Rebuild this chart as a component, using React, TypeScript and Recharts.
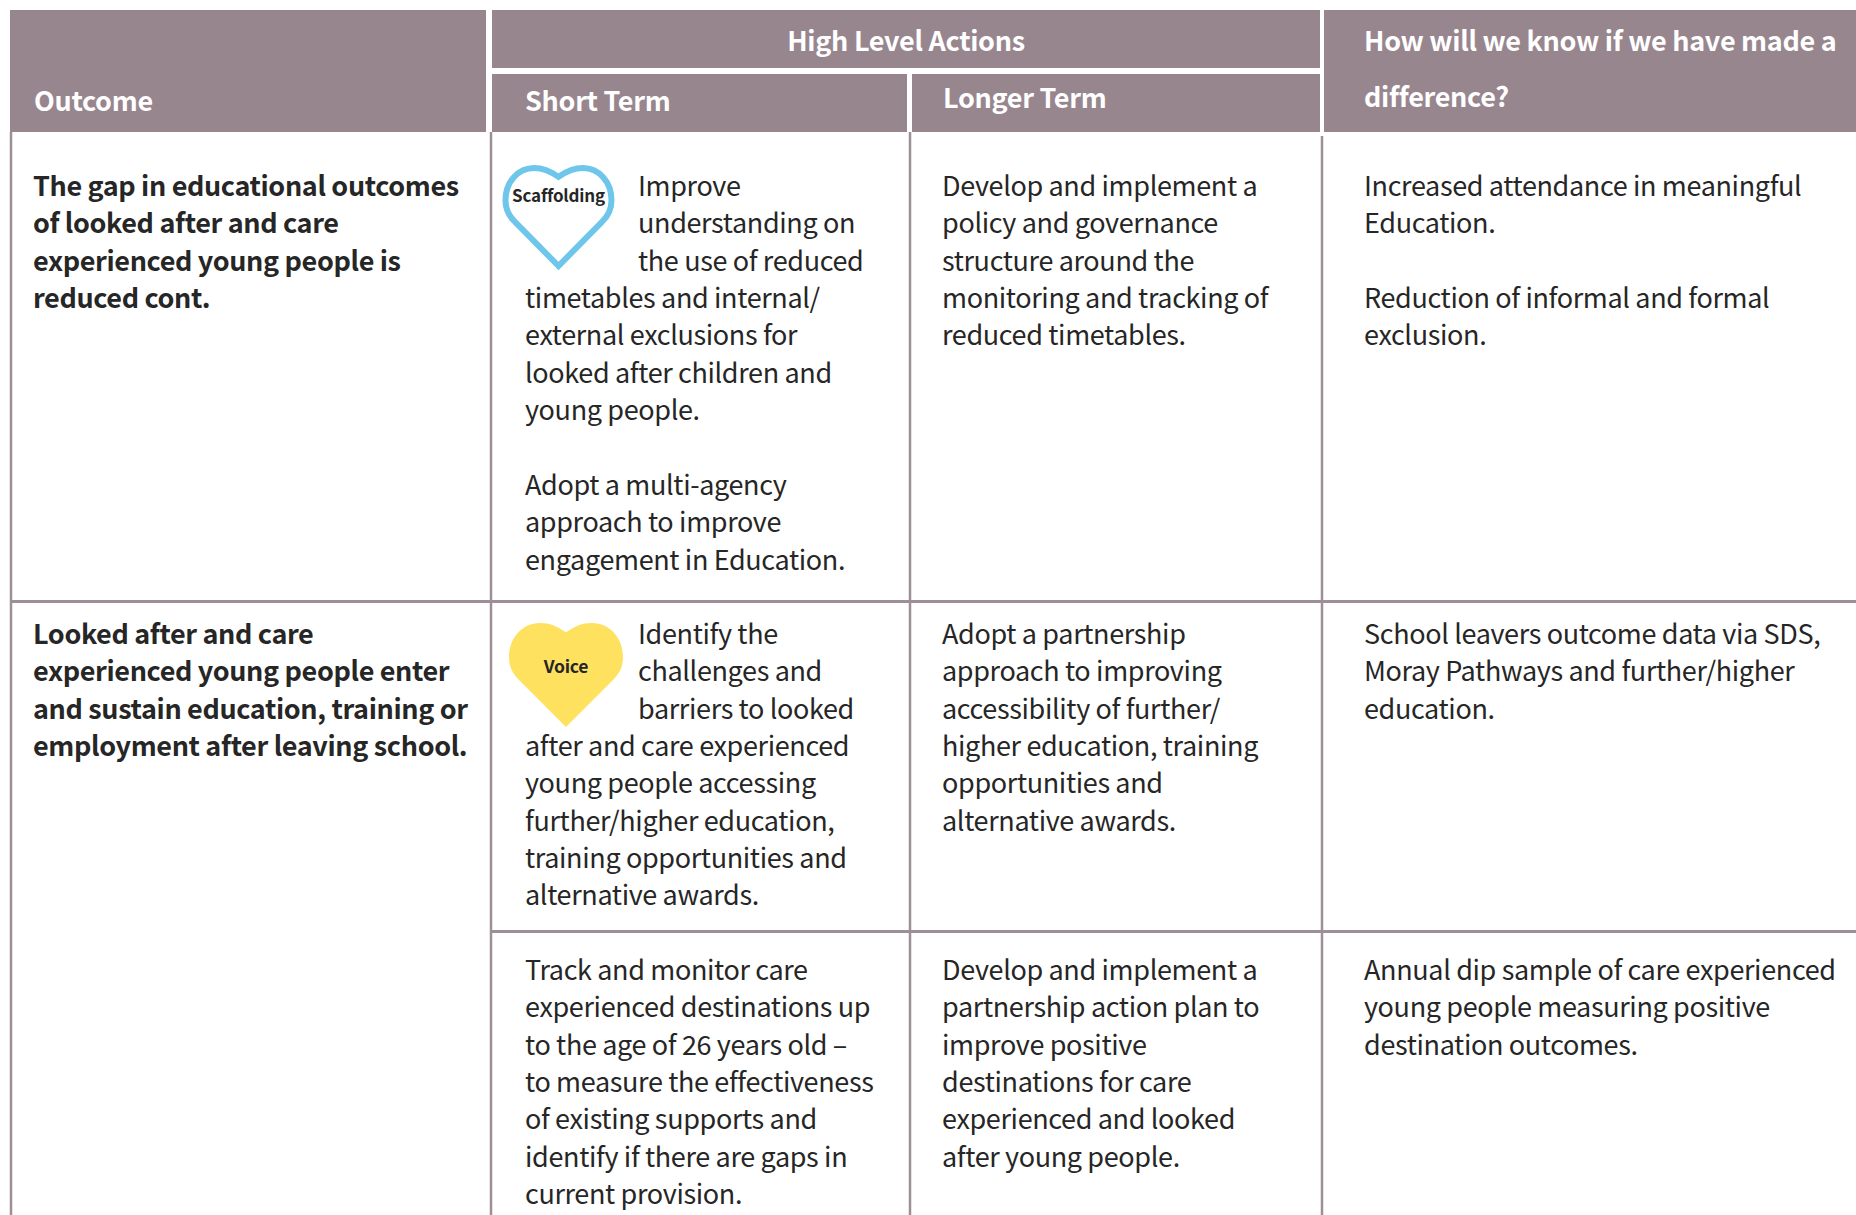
import { ReferenceArea, ReferenceDot, ReferenceLine, Scatter, ScatterChart, XAxis, YAxis } from "recharts";

const W = 1856;
const H = 1215;
const FONT = '"Noto Sans CJK SC", "Noto Sans", sans-serif';
const HEAD_FILL = "#98868F";
const RULE = "#9D8E97";
const INK = "#262626";

// table text, one entry per printed line, "" is a blank line
const headOutcome = ["Outcome"];
const headActions = ["High Level Actions"];
const headShort = ["Short Term"];
const headLonger = ["Longer Term"];
const headKnow = ["How will we know if we have made a", "difference?"];

const outcomeA = ["The gap in educational outcomes", "of looked after and care", "experienced young people is", "reduced cont."];
const outcomeB = ["Looked after and care", "experienced young people enter", "and sustain education, training or", "employment after leaving school."];

const shortAWrap = ["Improve", "understanding on", "the use of reduced"];
const shortA = ["timetables and internal/", "external exclusions for", "looked after children and", "young people.", "", "Adopt a multi-agency", "approach to improve", "engagement in Education."];
const longerA = ["Develop and implement a", "policy and governance", "structure around the", "monitoring and tracking of", "reduced timetables."];
const knowA = ["Increased attendance in meaningful", "Education.", "", "Reduction of informal and formal", "exclusion."];

const shortBWrap = ["Identify the", "challenges and", "barriers to looked"];
const shortB = ["after and care experienced", "young people accessing", "further/higher education,", "training opportunities and", "alternative awards."];
const longerB = ["Adopt a partnership", "approach to improving", "accessibility of further/", "higher education, training", "opportunities and", "alternative awards."];
const knowB = ["School leavers outcome data via SDS,", "Moray Pathways and further/higher", "education."];

const shortC = ["Track and monitor care", "experienced destinations up", "to the age of 26 years old \u2013", "to measure the effectiveness", "of existing supports and", "identify if there are gaps in", "current provision."];
const longerC = ["Develop and implement a", "partnership action plan to", "improve positive", "destinations for care", "experienced and looked", "after young people."];
const knowC = ["Annual dip sample of care experienced", "young people measuring positive", "destination outcomes."];

const LEAD = 37.35;
const BODY = 27;
const HEAD = 27;
const TRACK_BODY = -0.36;
const TRACK_HEAD = -0.3;

type Pt = { x: number; y: number; t: string; size: number; weight: number; fill: string; anchor?: string; track: number };

const place = (lines: string[], x: number, y: number, size = BODY, weight = 400, fill = INK, lead = LEAD, anchor = "start"): Pt[] =>
  lines
    .map((t, i) => ({ x, y: y + i * lead, t, size, weight, fill, anchor, track: fill === "#fff" ? TRACK_HEAD : TRACK_BODY }))
    .filter((p) => p.t !== "");

const points: Pt[] = [
  ...place(headOutcome, 34, 111, HEAD, 700, "#fff"),
  ...place(headActions, 906, 51, HEAD, 700, "#fff", LEAD, "middle"),
  ...place(headShort, 525, 111, HEAD, 700, "#fff"),
  ...place(headLonger, 943, 108, HEAD, 700, "#fff"),
  ...place(headKnow, 1364, 51, HEAD, 700, "#fff", 56),
  ...place(outcomeA, 33, 196, BODY, 700),
  ...place(shortAWrap, 638, 196),
  ...place(shortA, 525, 196 + 3 * LEAD),
  ...place(longerA, 942, 196),
  ...place(knowA, 1364, 196),
  ...place(outcomeB, 33, 644, BODY, 700),
  ...place(shortBWrap, 638, 644),
  ...place(shortB, 525, 644 + 3 * LEAD),
  ...place(longerB, 942, 644),
  ...place(knowB, 1364, 644),
  ...place(shortC, 525, 980),
  ...place(longerC, 942, 980),
  ...place(knowC, 1364, 980),
];

const LineText = (props: any) => {
  const p: Pt = props.payload;
  return (
    <text
      x={props.cx}
      y={props.cy}
      fontFamily={FONT}
      fontSize={p.size}
      fontWeight={p.weight}
      fill={p.fill}
      letterSpacing={p.track}
      textAnchor={p.anchor as any}
    >
      {p.t}
    </text>
  );
};

const heartPath = (x: number, y: number, w: number, h: number) => {
  const X = (v: number) => x + v * w;
  const Y = (v: number) => y + v * h;
  return [
    `M${X(0.5)},${Y(0.09)}`,
    `C${X(0.42)},${Y(0.03)} ${X(0.36)},${Y(0)} ${X(0.27)},${Y(0)}`,
    `C${X(0.12)},${Y(0)} ${X(0)},${Y(0.14)} ${X(0)},${Y(0.33)}`,
    `C${X(0)},${Y(0.43)} ${X(0.04)},${Y(0.5)} ${X(0.09)},${Y(0.55)}`,
    `L${X(0.5)},${Y(1)} L${X(0.91)},${Y(0.55)}`,
    `C${X(0.96)},${Y(0.5)} ${X(1)},${Y(0.43)} ${X(1)},${Y(0.33)}`,
    `C${X(1)},${Y(0.14)} ${X(0.88)},${Y(0)} ${X(0.73)},${Y(0)}`,
    `C${X(0.64)},${Y(0)} ${X(0.58)},${Y(0.03)} ${X(0.5)},${Y(0.09)} Z`,
  ].join(" ");
};

const Heart = ({ cx, cy, w, h, fill, stroke, label, labelSize, labelY }: any) => (
  <g>
    <path d={heartPath(cx - w / 2, cy - h / 2, w, h)} fill={fill} stroke={stroke} strokeWidth={stroke === "none" ? 0 : 6} />
    <text x={cx} y={cy + labelY} textAnchor="middle" fontFamily={FONT} fontWeight={700} fontSize={labelSize} letterSpacing={-0.2} fill={INK}>
      {label}
    </text>
  </g>
);

const band = (x1: number, x2: number, y1: number, y2: number) => (
  <ReferenceArea x1={x1} x2={x2} y1={y1} y2={y2} fill={HEAD_FILL} fillOpacity={1} stroke="none" ifOverflow="visible" />
);

const vRule = (x: number, y1: number) => (
  <ReferenceLine segment={[{ x, y: y1 }, { x, y: H }]} stroke={RULE} strokeWidth={2.5} ifOverflow="visible" />
);

const hRule = (y: number, x1: number) => (
  <ReferenceLine segment={[{ x: x1, y }, { x: W, y }]} stroke={RULE} strokeWidth={3} ifOverflow="visible" />
);

export default function App() {
  return (
    <div style={{ position: "absolute", left: 0, top: 0, width: W, height: H, background: "#fff" }}>
      <ScatterChart width={W} height={H} margin={{ top: 0, right: 0, bottom: 0, left: 0 }}>
        <XAxis type="number" dataKey="x" domain={[0, W]} hide />
        <YAxis type="number" dataKey="y" domain={[0, H]} reversed hide />
        {band(10, 486, 10, 132)}
        {band(492, 1320, 10, 68)}
        {band(492, 907, 74, 132)}
        {band(912, 1320, 74, 132)}
        {band(1324, 1856, 10, 132)}
        {vRule(11, 132)}
        {vRule(491, 132)}
        {vRule(910, 132)}
        {vRule(1322, 136)}
        {hRule(601.5, 11)}
        {hRule(931.5, 491)}
        <ReferenceDot
          x={558.5}
          y={217}
          ifOverflow="visible"
          shape={(p: any) => <Heart cx={p.cx} cy={p.cy} w={106} h={98} fill="none" stroke="#6EC6EA" label="Scaffolding" labelSize={17} labelY={-15} />}
        />
        <ReferenceDot
          x={566}
          y={675}
          ifOverflow="visible"
          shape={(p: any) => <Heart cx={p.cx} cy={p.cy} w={114} h={104} fill="#FFE160" stroke="none" label="Voice" labelSize={17.5} labelY={-2} />}
        />
        <Scatter data={points} isAnimationActive={false} shape={LineText} />
      </ScatterChart>
    </div>
  );
}
